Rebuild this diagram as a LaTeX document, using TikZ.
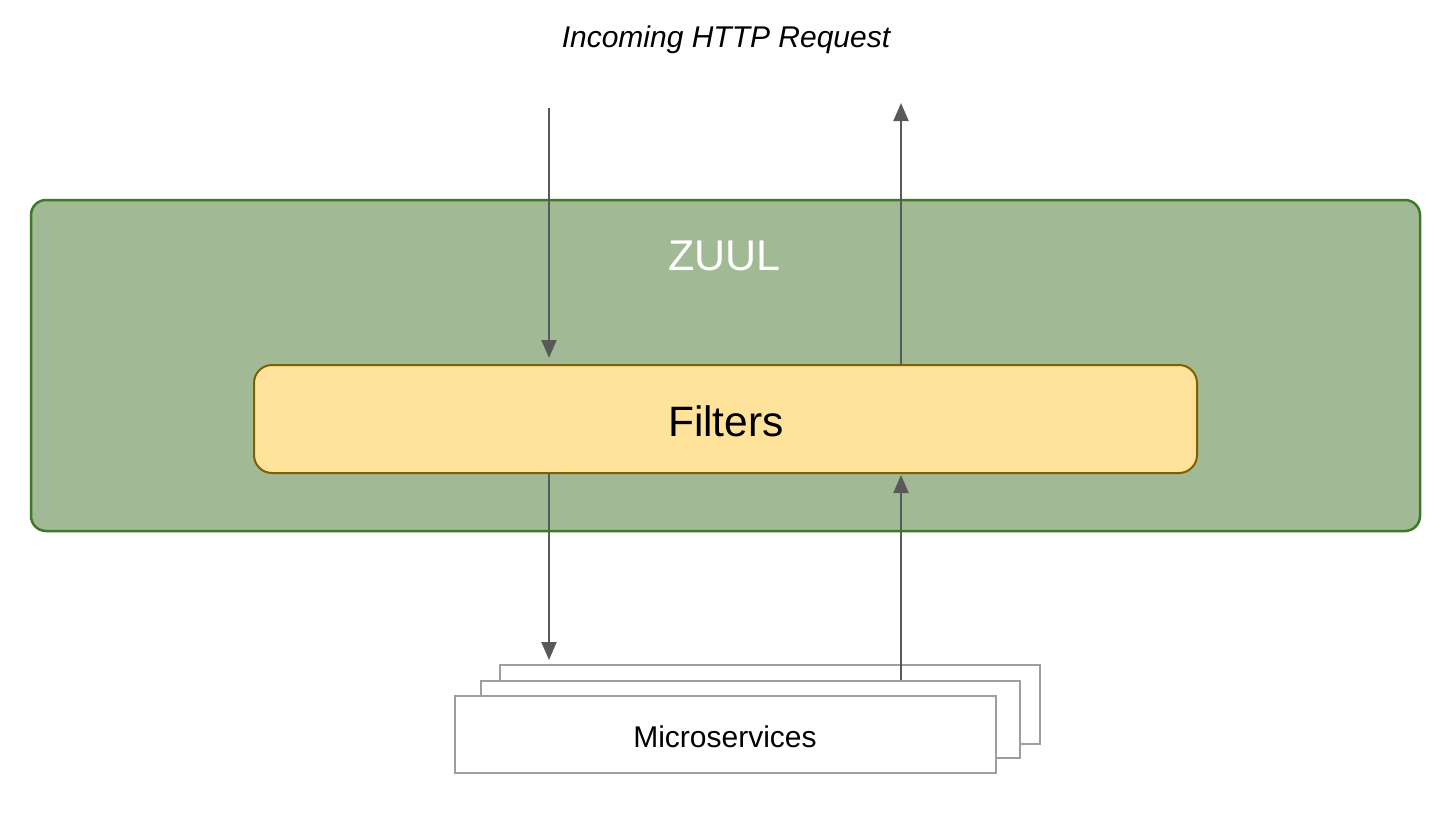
\documentclass[tikz,border=0pt]{standalone}
\usepackage{fontspec}
\setmainfont{Liberation Sans}
\usetikzlibrary{arrows.meta}
\definecolor{zuulfill}{HTML}{A1B995}
\definecolor{zuuldraw}{HTML}{3D7A27}
\definecolor{filtfill}{HTML}{FFE39B}
\definecolor{filtdraw}{HTML}{7F6000}
\definecolor{arrcol}{HTML}{595959}
\definecolor{msdraw}{HTML}{9E9E9E}
\begin{document}
\begin{tikzpicture}[x=1pt,y=-1pt,
  zuulbox/.style={draw=zuuldraw,fill=zuulfill,line width=2.5pt,rounded corners=15pt,minimum width=1389pt,minimum height=331pt,inner sep=0pt},
  filtbox/.style={draw=filtdraw,fill=filtfill,line width=2pt,rounded corners=18pt,minimum width=943pt,minimum height=108pt,inner sep=0pt},
  msbox/.style={draw=msdraw,fill=white,line width=2pt,minimum width=540pt,minimum height=77pt,inner sep=0pt},
  arr/.style={draw=arrcol,line width=2pt,-{Triangle[length=18pt,width=15pt]}},
  lbl/.style={inner sep=0pt}
]
\useasboundingbox (0,0) rectangle (1452,820);
\fill[white] (0,0) rectangle (1452,820);

\node[lbl,font=\fontsize{30}{36}\selectfont\itshape] (req) at (726,40) {Incoming HTTP Request};

\node[zuulbox] (zuul) at (725.5,365.5) {};
\node[lbl,text=white,font=\fontsize{43}{50}\selectfont] (zuullbl) at (724.5,256) {ZUUL};

\node[filtbox] (filters) at (725.5,419) {};
\node[lbl,font=\fontsize{42.5}{50}\selectfont] (filtlbl) at (726,421) {Filters};

\node[msbox,minimum height=79pt] (ms3) at (770,704.5) {};
\node[msbox,minimum width=539pt] (ms2) at (750.5,719.5) {};
\node[msbox,minimum width=541pt] (ms1) at (725.5,734.5) {};
\node[lbl,font=\fontsize{30}{36}\selectfont] (mslbl) at (725,737) {Microservices};

\coordinate (in) at (549,108);
\coordinate (out) at (901,103);

\draw[arr,shorten >=6pt] (in) -- (in |- filters.north);
\draw[arr,shorten >=4pt] (filters.south -| in) -- (in |- ms3.north);
\draw[arr,shorten >=1pt] (out |- ms2.north) -- (out |- filters.south);
\draw[arr] (out |- filters.north) -- (out);
\end{tikzpicture}
\end{document}
